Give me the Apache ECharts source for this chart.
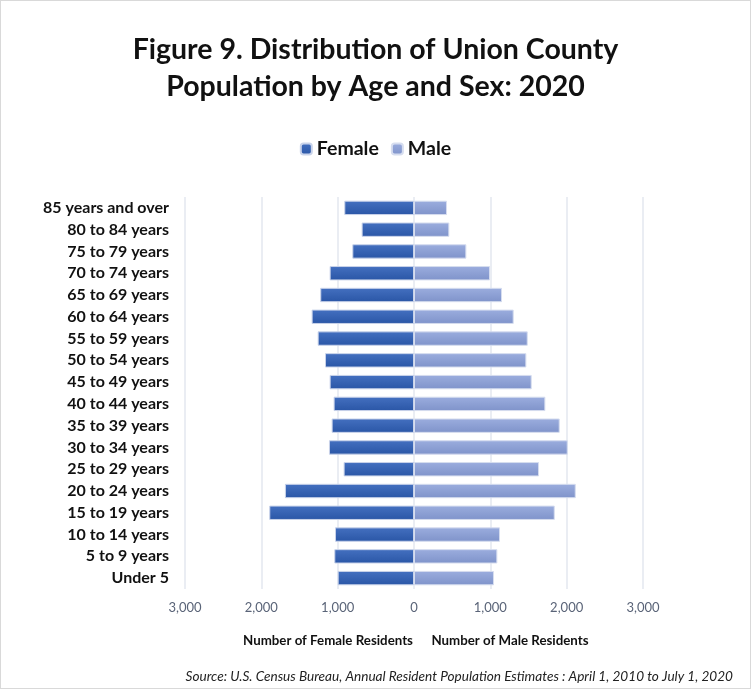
<!DOCTYPE html>
<html><head><meta charset="utf-8">
<script src="https://cdn.jsdelivr.net/npm/echarts@6/dist/echarts.min.js"></script>
<style>html,body{margin:0;padding:0;background:#fff}#c{width:751px;height:689px;box-sizing:border-box;border:1px solid #d9d9d9}</style>
</head><body><div id="c"></div>
<script>
const categories = ["Under 5","5 to 9 years","10 to 14 years","15 to 19 years","20 to 24 years","25 to 29 years","30 to 34 years","35 to 39 years","40 to 44 years","45 to 49 years","50 to 54 years","55 to 59 years","60 to 64 years","65 to 69 years","70 to 74 years","75 to 79 years","80 to 84 years","85 years and over"];
const female = [1000,1044,1035,1896,1691,922,1114,1079,1053,1105,1166,1262,1341,1228,1105,808,686,913];
const male   = [1048,1092,1127,1844,2119,1638,2014,1909,1721,1542,1472,1490,1306,1153,996,686,463,432];
const xTicks = [-3000,-2000,-1000,0,1000,2000,3000];

const font = "Lato, 'Open Sans', sans-serif";
const chart = echarts.init(document.getElementById('c'));
const grad = (a,b)=>new echarts.graphic.LinearGradient(0,0,0,1,[{offset:0,color:a},{offset:1,color:b}]);
chart.setOption({
  animation:false,
  textStyle:{fontFamily:font},
  title:[
    {text:"Figure 9. Distribution of Union County\nPopulation by Age and Sex: 2020",left:'center',top:25,
     textStyle:{fontSize:28.5,fontWeight:'bold',color:'#111',lineHeight:37,fontFamily:font}},
    {text:"Number of Female Residents",left:322,top:628,textAlign:'center',textStyle:{fontSize:13.3,fontWeight:'bold',color:'#111'}},
    {text:"Number of Male Residents",left:504,top:628,textAlign:'center',textStyle:{fontSize:13.3,fontWeight:'bold',color:'#111'}},
    {text:"Source: U.S. Census Bureau, Annual Resident Population Estimates : April 1, 2010 to July 1, 2020",right:12,top:664,
     textStyle:{fontSize:13.6,fontStyle:'italic',fontWeight:'normal',color:'#222'}}
  ],
  legend:{top:133,left:'center',itemWidth:11,itemHeight:11,itemGap:12,
    textStyle:{fontSize:19.5,fontWeight:'bold',color:'#111'},data:['Female','Male']},
  grid:{left:184,right:107,top:196,bottom:99,containLabel:false},
  xAxis:{type:'value',min:-3000,max:3000,interval:1000,
    axisLine:{show:false},axisTick:{show:false},
    splitLine:{lineStyle:{color:'#e3e7ef',width:1.5}},
    axisLabel:{color:'#5a6478',fontSize:13,margin:12,formatter:v=>Math.abs(v).toLocaleString('en-US')}},
  yAxis:{type:'category',data:categories,
    axisLine:{show:false},axisTick:{show:false},
    axisLabel:{interval:0,color:'#111',fontSize:16,fontWeight:'bold',margin:16}},
  series:[
    {name:'Female',type:'bar',stack:'t',barWidth:'66%',data:female.map(v=>-v),
     itemStyle:{color:grad('#4470c0','#2a56a6'),borderColor:'#c9d3ea',borderWidth:1}},
    {name:'Male',type:'bar',stack:'t',barWidth:'66%',data:male,
     itemStyle:{color:grad('#9badde','#7f93ca'),borderColor:'#d6ddef',borderWidth:1}}
  ]
});
</script></body></html>
